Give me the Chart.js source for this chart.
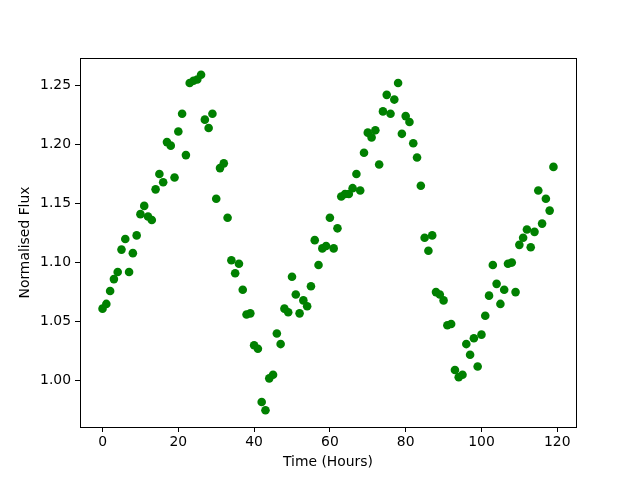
<!DOCTYPE html>
<html>
<head>
<meta charset="utf-8">
<script src="https://cdn.jsdelivr.net/npm/chart.js@4"></script>
<style>
    body { margin: 0; background: #fff; }
    #chart { display: block; }
</style>
</head>
<body>
<canvas id="chart" width="640" height="480"></canvas>
<script>
// Data
const hours = [
    0, 1, 2, 3, 4, 5, 6, 7, 8, 9, 10, 11, 12, 13, 14, 15, 16, 17, 18, 19,
    20, 21, 22, 23, 24, 25, 26, 27, 28, 29, 30, 31, 32, 33, 34, 35, 36, 37, 38, 39,
    40, 41, 42, 43, 44, 45, 46, 47, 48, 49, 50, 51, 52, 53, 54, 55, 56, 57, 58, 59,
    60, 61, 62, 63, 64, 65, 66, 67, 68, 69, 70, 71, 72, 73, 74, 75, 76, 77, 78, 79,
    80, 81, 82, 83, 84, 85, 86, 87, 88, 89, 90, 91, 92, 93, 94, 95, 96, 97, 98, 99,
    100, 101, 102, 103, 104, 105, 106, 107, 108, 109, 110, 111, 112, 113, 114, 115, 116, 117, 118, 119
];
const flux = [
    1.061, 1.065, 1.076, 1.086, 1.092, 1.111, 1.120, 1.092, 1.108, 1.123,
    1.141, 1.148, 1.139, 1.136, 1.162, 1.175, 1.168, 1.202, 1.199, 1.172,
    1.211, 1.226, 1.191, 1.252, 1.254, 1.255, 1.259, 1.221, 1.214, 1.226,
    1.154, 1.180, 1.184, 1.138, 1.102, 1.091, 1.099, 1.077, 1.056, 1.057,
    1.030, 1.027, 0.982, 0.975, 1.002, 1.005, 1.040, 1.031, 1.061, 1.058,
    1.088, 1.073, 1.057, 1.068, 1.063, 1.080, 1.119, 1.098, 1.112, 1.114,
    1.138, 1.112, 1.129, 1.156, 1.158, 1.158, 1.163, 1.175, 1.161, 1.193,
    1.210, 1.206, 1.212, 1.183, 1.228, 1.242, 1.226, 1.238, 1.252, 1.209,
    1.224, 1.219, 1.201, 1.189, 1.165, 1.121, 1.110, 1.123, 1.075, 1.073,
    1.068, 1.047, 1.048, 1.009, 1.003, 1.005, 1.031, 1.022, 1.036, 1.012,
    1.039, 1.055, 1.072, 1.098, 1.082, 1.065, 1.077, 1.099, 1.100, 1.075,
    1.115, 1.121, 1.128, 1.113, 1.126, 1.161, 1.133, 1.154, 1.144, 1.181
];
const xTicks = [0, 20, 40, 60, 80, 100, 120];
const yTicks = [1.00, 1.05, 1.10, 1.15, 1.20, 1.25];

const FONT = { family: 'DejaVu Sans', size: 13.9 };

// Black frame round the plot area, like matplotlib's spines
const framePlugin = {
    id: 'frame',
    afterDatasetsDraw(chart) {
        const a = chart.chartArea;
        const c = chart.ctx;
        c.save();
        c.strokeStyle = '#000';
        c.lineWidth = 1;
        c.strokeRect(Math.round(a.left) + 0.5, Math.round(a.top) + 0.5,
            Math.round(a.right - a.left), Math.round(a.bottom - a.top));
        c.restore();
    }
};

new Chart(document.getElementById('chart'), {
    type: 'scatter',
    data: {
        datasets: [{
            data: hours.map((h, i) => ({ x: h, y: flux[i] })),
            backgroundColor: '#008000',
            borderColor: '#008000',
            pointRadius: 4.3,
            pointHoverRadius: 4.3,
            borderWidth: 0
        }]
    },
    options: {
        responsive: false,
        animation: false,
        layout: { padding: { left: 0, top: 58, right: 64, bottom: 0 } },
        plugins: {
            legend: { display: false },
            tooltip: { enabled: false }
        },
        scales: {
            x: {
                type: 'linear',
                min: -5.95,
                max: 124.95,
                afterBuildTicks: scale => { scale.ticks = xTicks.map(v => ({ value: v })); },
                afterFit: scale => { scale.height = 53; },
                grid: { display: true, drawOnChartArea: false, tickLength: 5, color: '#000' },
                border: { display: true, color: '#000' },
                ticks: { color: '#000', font: FONT, padding: 2, maxRotation: 0 },
                title: { display: true, text: 'Time (Hours)', color: '#000', font: FONT, padding: { top: 0, bottom: 9 } }
            },
            y: {
                min: 0.9608,
                max: 1.2732,
                afterBuildTicks: scale => { scale.ticks = yTicks.map(v => ({ value: v })); },
                afterFit: scale => { scale.width = 80; },
                grid: { display: true, drawOnChartArea: false, tickLength: 5, color: '#000' },
                border: { display: true, color: '#000' },
                ticks: { color: '#000', font: FONT, padding: 4, callback: v => v.toFixed(2) },
                title: { display: true, text: 'Normalised Flux', color: '#000', font: FONT, padding: { top: 17, bottom: 0 } }
            }
        }
    },
    plugins: [framePlugin]
});
</script>
</body>
</html>
